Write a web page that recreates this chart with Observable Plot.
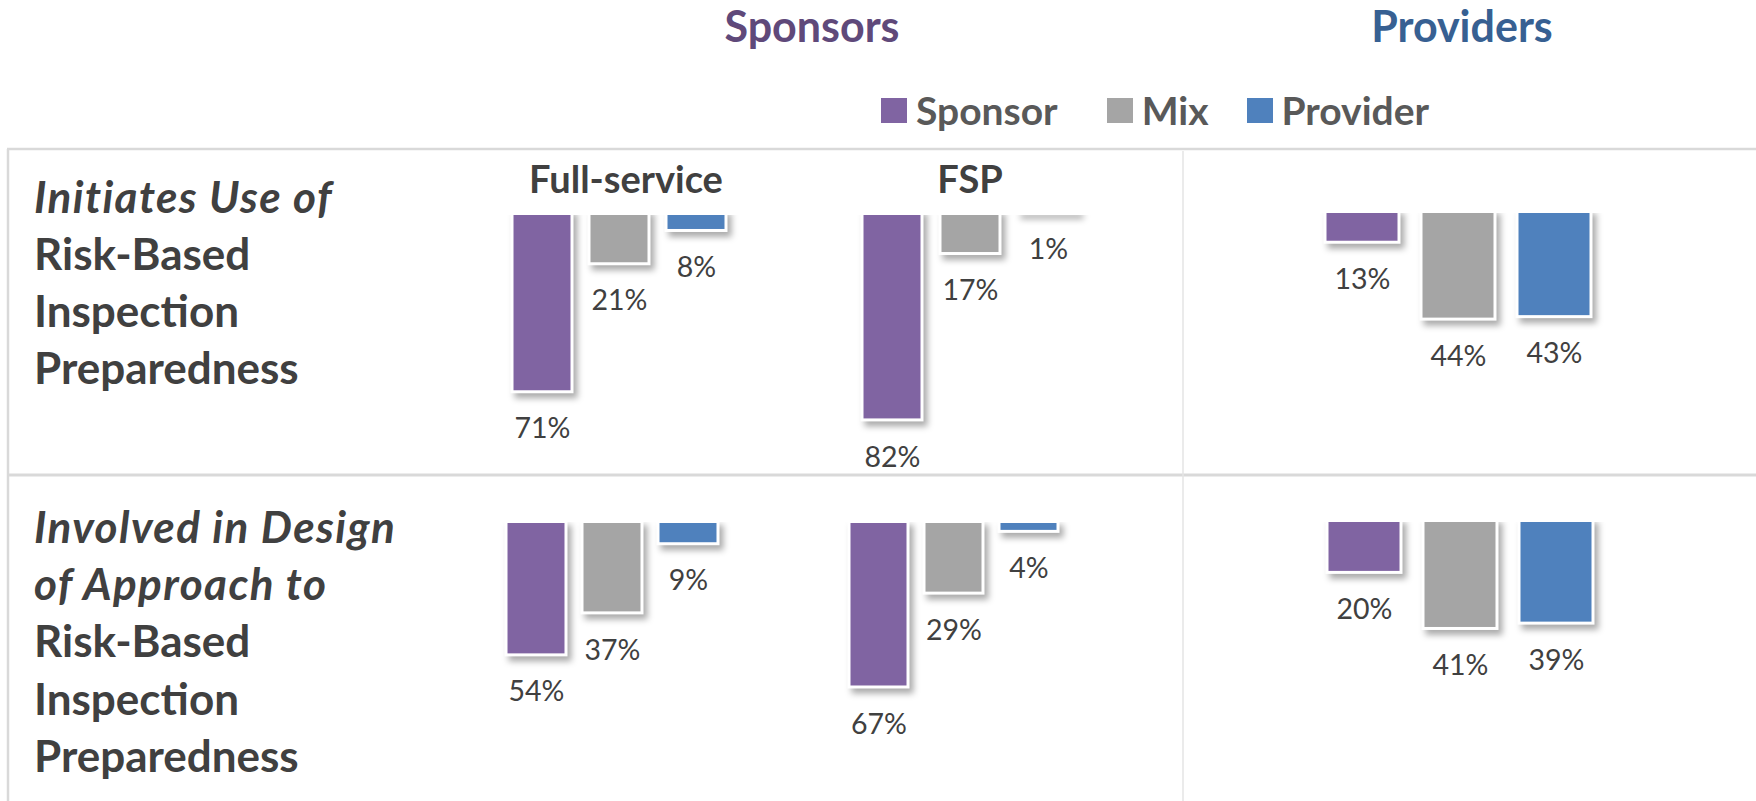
<!DOCTYPE html>
<html><head><meta charset="utf-8">
<script src="https://cdn.jsdelivr.net/npm/d3@7"></script>
<script src="https://cdn.jsdelivr.net/npm/@observablehq/plot@0.6"></script>
<style>
html,body{margin:0;padding:0;background:#fff;}
#page{position:relative;width:1756px;height:801px;overflow:hidden;font-family:Lato,"Open Sans",sans-serif;}
.abs{position:absolute;}
.lg-swatch{margin-right:38px !important;}
span.lg-swatch:nth-of-type(1){margin-right:49px !important;}
.lg-swatch > svg{margin-right:9px !important;}
</style></head><body><div id="page"></div>
<script>
// ---------- data ----------
const series = ["Sponsor", "Mix", "Provider"];
const seriesColors = ["#8064A2", "#A5A5A5", "#4F81BD"];
const sectionTitles = ["Sponsors", "Providers"];
const sponsorGroups = ["Full-service", "FSP"];
const row1Label = ["Initiates Use of", "Risk-Based", "Inspection", "Preparedness"];
const row1ItalicLines = 1;
const row2Label = ["Involved in Design", "of Approach to", "Risk-Based", "Inspection", "Preparedness"];
const row2ItalicLines = 2;
// values (%) in series order Sponsor, Mix, Provider
const row1FullService = [71, 21, 8];
const row1FSP = [82, 17, 1];
const row1Providers = [13, 44, 43];
const row2FullService = [54, 37, 9];
const row2FSP = [67, 29, 4];
const row2Providers = [20, 41, 39];

// ---------- layout ----------
const W = 1756, H = 801;
const FONT = "Lato, 'Open Sans', sans-serif";
const page = d3.select("#page");
const bg = page.append("svg").attr("class", "abs").attr("width", W).attr("height", H)
  .style("left", "0px").style("top", "0px");

function hline(y, x1, x2, w, c) { bg.append("line").attr("x1", x1).attr("x2", x2).attr("y1", y).attr("y2", y).attr("stroke", c).attr("stroke-width", w); }
function vline(x, y1, y2, w, c) { bg.append("line").attr("x1", x).attr("x2", x).attr("y1", y1).attr("y2", y2).attr("stroke", c).attr("stroke-width", w); }
hline(149, 7, W, 2.5, "#D9D9D9");
vline(8, 149, H, 2.5, "#D9D9D9");
hline(475, 7, W, 3, "#D9D9D9");
vline(1183, 151, H, 1.5, "#E4E4E4");

function txt(s, x, y, opts) {
  bg.append("text").attr("x", x).attr("y", y).attr("font-family", FONT)
    .attr("font-size", opts.size).attr("font-weight", opts.weight || "bold")
    .attr("font-style", opts.italic ? "italic" : "normal")
    .attr("letter-spacing", opts.spacing || 0)
    .attr("fill", opts.color).attr("text-anchor", opts.anchor || "start").text(s);
}
txt(sectionTitles[0], 812, 42, {size: 43, color: "#5F497A", anchor: "middle"});
txt(sectionTitles[1], 1462, 42, {size: 43, color: "#376092", anchor: "middle"});
txt(sponsorGroups[0], 626, 193, {size: 38, color: "#404040", anchor: "middle"});
txt(sponsorGroups[1], 970, 193, {size: 38, color: "#404040", anchor: "middle"});
row1Label.forEach((s, i) => txt(s, 34, 213 + i * 57, {size: 44, color: "#404040", italic: i < row1ItalicLines, spacing: i < row1ItalicLines ? 1.4 : 0}));
row2Label.forEach((s, i) => txt(s, 34, 543 + i * 57.2, {size: 44, color: "#404040", italic: i < row2ItalicLines, spacing: i < row2ItalicLines ? 1.4 : 0}));

// legend
const legend = Plot.legend({
  legend: "swatches",
  color: {type: "categorical", domain: series, range: seriesColors},
  swatchWidth: 26, swatchHeight: 25,
  className: "lg",
  style: {fontFamily: FONT, fontSize: "39px", fontWeight: "bold", color: "#595959", background: "transparent"}
});
const lgDiv = page.append("div").attr("class", "abs").style("left", "881px").style("top", "87px").style("width", "800px");
lgDiv.node().appendChild(legend);

// bar groups
function groupPlot(values, L) {
  const data = series.map((s, i) => ({series: s, value: values[i]}));
  const pad = 20;
  const width = 3 * L.step + 2 * pad;
  const pi = 1 - L.bw / L.step;
  const y0 = L.zeroY - L.clipY;
  const plot = Plot.plot({
    width, height: 290, margin: 0,
    style: {background: "transparent", overflow: "visible"},
    x: {type: "band", domain: series, range: [pad, pad + 3 * L.step], paddingInner: pi, paddingOuter: pi / 2, axis: null},
    y: {domain: [0, 100], range: [y0, y0 + 100 * L.scale], axis: null},
    color: {domain: series, range: seriesColors},
    marks: [
      Plot.barY(data, {x: "series", y: "value", fill: "series", stroke: "white", strokeWidth: 3, clip: true}),
      Plot.text(data, {x: "series", y: "value", text: d => d.value + "%", dy: 37, fontSize: 28.5, fill: "#404040", fontFamily: FONT})
    ]
  });
  d3.select(plot).selectAll('g[aria-label="bar"] rect').style("filter", "drop-shadow(4px 5px 3px rgba(0,0,0,0.33))");
  const div = page.append("div").attr("class", "abs")
    .style("left", (L.start - pad) + "px").style("top", L.clipY + "px");
  div.node().appendChild(plot);
}

groupPlot(row1FullService, {start: 503.25, step: 77.5, bw: 60, zeroY: 210, clipY: 215, scale: 2.56});
groupPlot(row1FSP, {start: 852.5, step: 78, bw: 60, zeroY: 210, clipY: 215, scale: 2.56});
groupPlot(row1Providers, {start: 1314.4, step: 96.25, bw: 74, zeroY: 210, clipY: 213, scale: 2.48});
groupPlot(row2FullService, {start: 497.4, step: 76.3, bw: 60, zeroY: 521.5, clipY: 522, scale: 2.47});
groupPlot(row2FSP, {start: 839.6, step: 75.75, bw: 60, zeroY: 521.5, clipY: 522, scale: 2.47});
groupPlot(row2Providers, {start: 1314.75, step: 96.5, bw: 74, zeroY: 519, clipY: 522, scale: 2.67});
</script></body></html>
